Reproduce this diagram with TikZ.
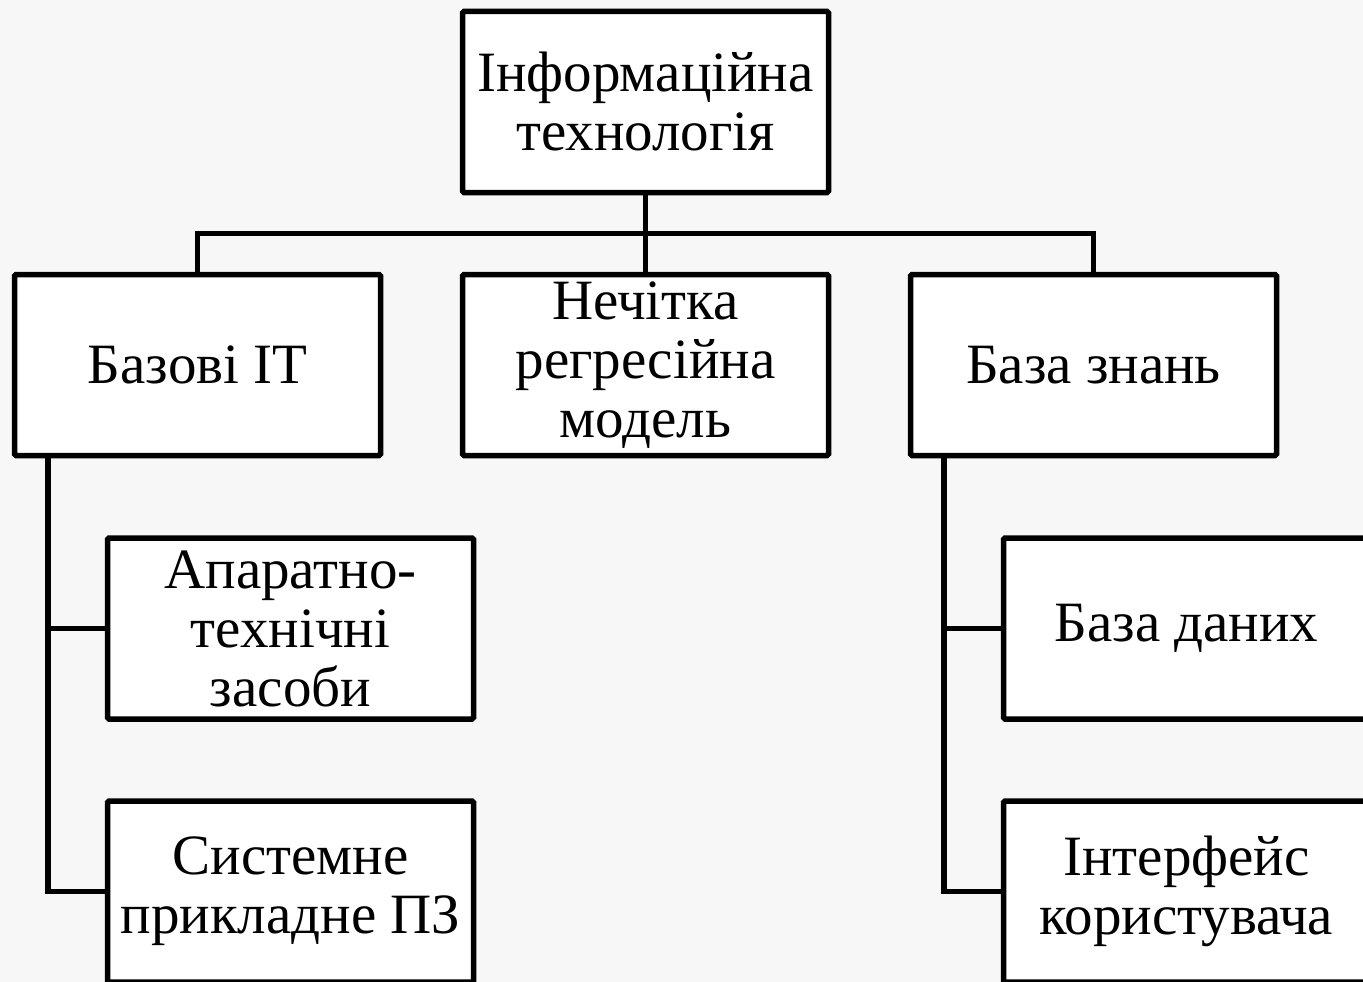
\documentclass[tikz,border=0pt]{standalone}
\usepackage{fontspec}
\setmainfont{Liberation Serif}
\usetikzlibrary{calc}
\begin{document}
\begin{tikzpicture}[x=1pt,y=-1pt,
  box/.style={draw=black,line width=5.5pt,fill=white,rounded corners=1.5pt,
    minimum width=366pt,minimum height=181pt,align=center,inner sep=0pt,
    font=\fontsize{57}{59}\selectfont},
  wire/.style={draw=black,line width=5.5pt}]
\useasboundingbox (0,0) rectangle (1363,982);
\fill[black!3] (0,0) rectangle (1363,982);
\clip (0,0) rectangle (1363,982);
\node[box] (top) at (645.5,102) {Інформаційна\\технологія};
\node[box] (base) at (197.5,365) {Базові ІТ};
\node[box] (mid) at (645.5,365) {Нечітка\\регресійна\\модель};
\node[box] (kb) at (1093.5,365) {База знань};
\node[box] (hw) at (290.5,628.5) {Апаратно-\\технічні\\засоби};
\node[box] (sw) at (290.5,891.5) {Системне\\прикладне ПЗ};
\node[box] (db) at (1186.5,628.5) {База даних};
\node[box] (ui) at (1186.5,891.5) {Інтерфейс\\користувача};
\coordinate (bus) at ($(top.south)!0.5!(mid.north)$);
\coordinate (lt) at ([xshift=36pt]base.south west);
\coordinate (rt) at ([xshift=36pt]kb.south west);
\draw[wire] (top.south) -- (mid.north);
\draw[wire] (base.north) |- (bus) -| (kb.north);
\draw[wire] (lt) |- (hw.west);
\draw[wire] (lt) |- (sw.west);
\draw[wire] (rt) |- (db.west);
\draw[wire] (rt) |- (ui.west);
\end{tikzpicture}
\end{document}
